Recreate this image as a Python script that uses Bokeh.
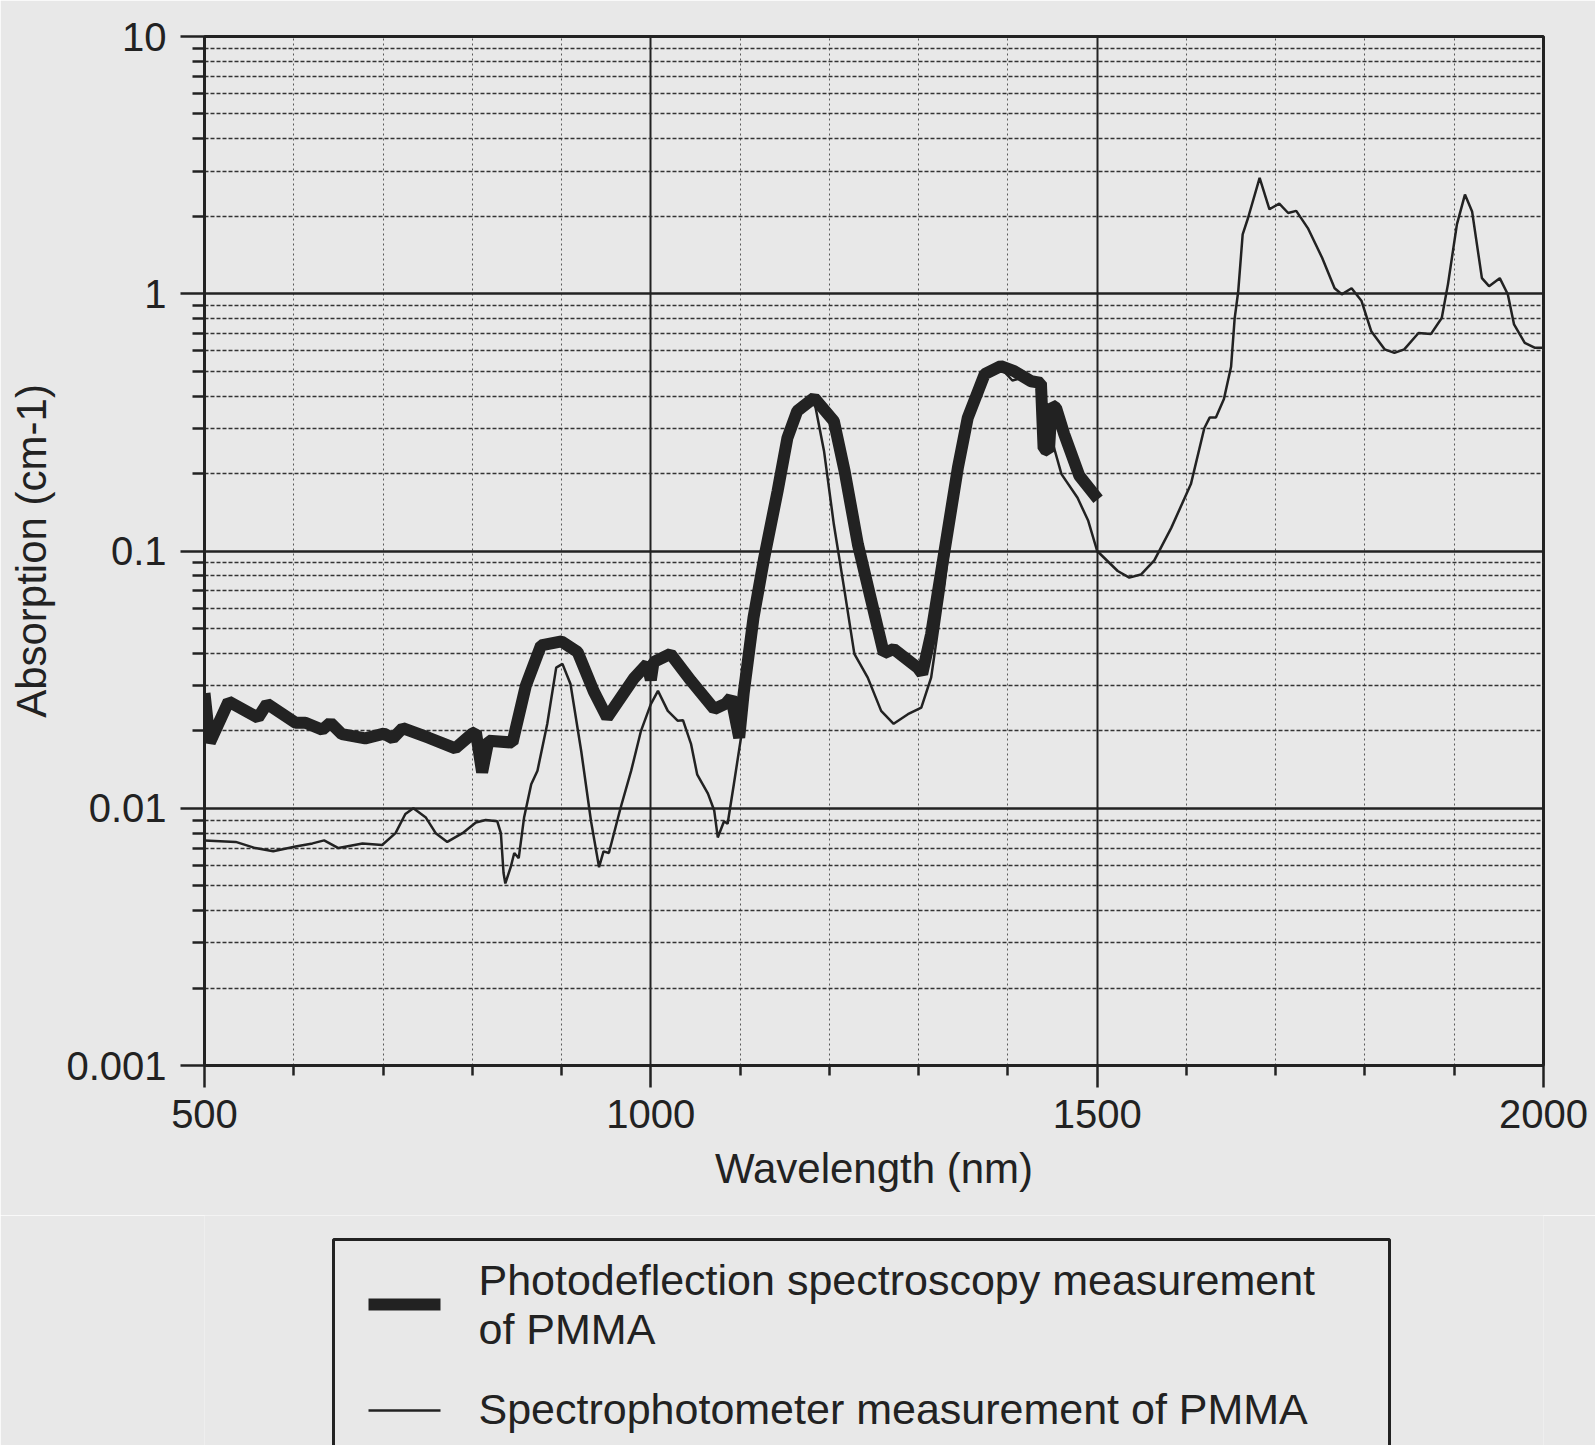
from bokeh.plotting import figure
from bokeh.models import Range1d, FixedTicker, CustomJSTickFormatter
from bokeh.layouts import column
from bokeh.core.properties import value
from bokeh.embed import file_html
from bokeh.resources import INLINE

# ---- data ----
pds_nm = [500, 506, 527, 560, 570, 602, 613, 632, 641, 654, 680, 701, 711, 722, 751, 781, 800, 804, 811, 818,
          845, 860, 877, 900, 918, 936, 951, 981, 996, 1000, 1003, 1022, 1045, 1071, 1084, 1090, 1099, 1104,
          1115, 1127, 1142, 1153, 1164, 1183, 1205, 1217, 1232, 1247, 1261, 1272, 1299, 1304, 1314, 1329,
          1344, 1355, 1374, 1392, 1407, 1426, 1437, 1440, 1446, 1449, 1454, 1463, 1480, 1501]
pds_abs = [0.028, 0.018, 0.026, 0.0225, 0.0255, 0.0215, 0.0215, 0.0202, 0.0215, 0.0194, 0.0187, 0.0195,
           0.0187, 0.0205, 0.0188, 0.0171, 0.0195, 0.0198, 0.0138, 0.0183, 0.0180, 0.0300, 0.0430, 0.0445,
           0.0405, 0.0285, 0.0225, 0.032, 0.0364, 0.0315, 0.037, 0.0398, 0.0313, 0.0243, 0.0255, 0.027,
           0.0188, 0.028, 0.055, 0.094, 0.171, 0.275, 0.35, 0.394, 0.32, 0.205, 0.106, 0.064, 0.040, 0.0416,
           0.0352, 0.0333, 0.0476, 0.1, 0.211, 0.329, 0.487, 0.523, 0.50, 0.457, 0.45, 0.25, 0.245, 0.37,
           0.36, 0.285, 0.196, 0.159]

spec_nm = [500, 535, 557, 577, 602, 621, 634, 650, 677, 699, 714, 725, 734, 748, 759, 772, 789, 804, 815, 828,
           832, 835, 837, 843, 847, 852, 858, 866, 873, 884, 894, 901, 910, 922, 933, 942, 947, 953, 966, 978,
           989, 1000, 1008, 1019, 1030, 1036, 1045, 1052, 1064, 1071, 1075, 1082, 1086, 1093, 1101, 1110,
           1127, 1142, 1153, 1165, 1183, 1194, 1205, 1217, 1228, 1243, 1258, 1272, 1288, 1303, 1314, 1329,
           1344, 1355, 1374, 1392, 1405, 1415, 1426, 1437, 1448, 1460, 1478, 1490, 1500, 1523, 1536, 1549,
           1564, 1583, 1605, 1620, 1626, 1633, 1642, 1650, 1654, 1658, 1663, 1669, 1682, 1693, 1704, 1714,
           1723, 1736, 1752, 1766, 1774, 1785, 1796, 1807, 1822, 1833, 1844, 1860, 1874, 1886, 1893, 1903,
           1912, 1920, 1931, 1939, 1951, 1960, 1967, 1979, 1990, 2000]
spec_abs = [0.0075, 0.0074, 0.0070, 0.0068, 0.0071, 0.0073, 0.0075, 0.0070, 0.0073, 0.0072, 0.0080, 0.0095,
            0.0100, 0.0092, 0.0080, 0.0074, 0.0080, 0.0088, 0.0090, 0.0089, 0.0080, 0.0056, 0.0051, 0.0059,
            0.0067, 0.0064, 0.0092, 0.0124, 0.0140, 0.0213, 0.0352, 0.0364, 0.0304, 0.0167, 0.0089, 0.0059,
            0.0068, 0.0067, 0.0100, 0.0140, 0.0200, 0.0254, 0.0286, 0.0239, 0.0219, 0.0220, 0.0178, 0.0135,
            0.0114, 0.0098, 0.0077, 0.0089, 0.0087, 0.0124, 0.0188, 0.040, 0.092, 0.17, 0.27, 0.34, 0.385,
            0.245, 0.127, 0.070, 0.0398, 0.0322, 0.0239, 0.0213, 0.0232, 0.0246, 0.0322, 0.074, 0.20, 0.32,
            0.48, 0.515, 0.46, 0.47, 0.465, 0.43, 0.28, 0.199, 0.161, 0.131, 0.100, 0.0836, 0.0788, 0.081,
            0.092, 0.123, 0.182, 0.30, 0.33, 0.33, 0.39, 0.52, 0.80, 1.02, 1.70, 1.97, 2.82, 2.13, 2.24, 2.06,
            2.10, 1.80, 1.38, 1.05, 0.995, 1.05, 0.94, 0.715, 0.608, 0.589, 0.608, 0.704, 0.698, 0.805, 1.09,
            1.86, 2.43, 2.09, 1.15, 1.07, 1.15, 0.995, 0.76, 0.644, 0.617, 0.617]

x_major = [500, 1000, 1500, 2000]
x_minor = [600, 700, 800, 900, 1100, 1200, 1300, 1400, 1600, 1700, 1800, 1900]
y_major = [0.001, 0.01, 0.1, 1, 10]
y_minor = [k * d for d in [0.001, 0.01, 0.1, 1] for k in range(2, 10)]

legend_labels = ["Photodeflection spectroscopy measurement", "of PMMA",
                 "Spectrophotometer measurement of PMMA"]

BG = "#e8e8e8"
INK = "#222222"
FONT = "Liberation Sans"

p = figure(width=1595, height=1215, y_axis_type="log",
           x_range=Range1d(500, 2000), y_range=Range1d(0.001, 10),
           output_backend="svg", toolbar_location=None,
           min_border_left=204, min_border_right=52, min_border_top=36, min_border_bottom=150,
           background_fill_color=BG, border_fill_color=BG)
p.outline_line_color = INK
p.outline_line_width = 3

p.xaxis.ticker = FixedTicker(ticks=x_major, minor_ticks=x_minor)
p.yaxis.ticker = FixedTicker(ticks=y_major, minor_ticks=y_minor)
p.yaxis.formatter = CustomJSTickFormatter(code="return tick.toString();")

for ax in p.axis:
    ax.axis_line_color = INK
    ax.axis_line_width = 3
    ax.major_tick_line_color = INK
    ax.major_tick_line_width = 2.5
    ax.minor_tick_line_color = INK
    ax.minor_tick_line_width = 2.5
    ax.major_tick_in = 0
    ax.minor_tick_in = 0
    ax.major_label_text_font = FONT
    ax.major_label_text_font_size = "40px"
    ax.major_label_text_color = INK
    ax.axis_label_text_font = FONT
    ax.axis_label_text_font_size = "42px"
    ax.axis_label_text_font_style = "normal"
    ax.axis_label_text_color = INK

p.xaxis.major_tick_out = 22
p.xaxis.minor_tick_out = 10
p.xaxis.major_label_standoff = 12
p.xaxis.axis_label = "Wavelength (nm)"
p.xaxis.axis_label_standoff = 14

p.yaxis.major_tick_out = 24
p.yaxis.minor_tick_out = 12
p.yaxis.major_label_standoff = 14
p.yaxis.axis_label = "Absorption (cm-1)"
p.yaxis.axis_label_standoff = 8

p.xgrid.grid_line_color = INK
p.xgrid.grid_line_width = 2
p.xgrid.minor_grid_line_color = "#5a5a5a"
p.xgrid.minor_grid_line_width = 1
p.xgrid.minor_grid_line_dash = "2 3"

p.ygrid.grid_line_color = INK
p.ygrid.grid_line_width = 2.5
p.ygrid.minor_grid_line_color = "#333333"
p.ygrid.minor_grid_line_width = 1.3
p.ygrid.minor_grid_line_dash = "4 2"

p.line(spec_nm, spec_abs, line_color=INK, line_width=2.5)
p.line(pds_nm, pds_abs, line_color=INK, line_width=12)

# ---- legend panel below (frame aligned with the main plot; data units = page pixels) ----
leg = figure(width=1595, height=230, x_range=Range1d(204, 1543), y_range=Range1d(230, 0),
             output_backend="svg", toolbar_location=None,
             min_border_left=204, min_border_right=52, min_border_top=0, min_border_bottom=0,
             background_fill_color=BG, border_fill_color=BG)
leg.axis.visible = False
leg.grid.visible = False
leg.outline_line_color = None

leg.quad(left=[333], right=[1389], top=[24], bottom=[260], fill_color=None,
         line_color=INK, line_width=3)
leg.line([368, 440], [89, 89], line_color=INK, line_width=12)
leg.line([368, 440], [195, 195], line_color=INK, line_width=2.5)
leg.text(x=[478, 478, 478], y=[64, 113, 193], text=legend_labels,
         text_font=value(FONT), text_font_size="43px", text_color=INK,
         text_baseline="middle", text_align="left")

layout = column(p, leg, spacing=0)
open("out.html", "w").write(file_html(layout, INLINE))
